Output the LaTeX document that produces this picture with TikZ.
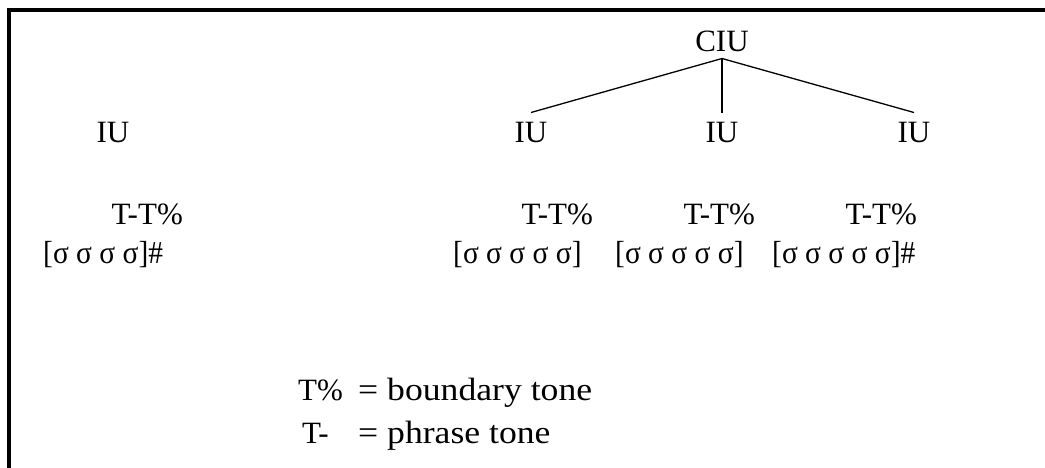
\documentclass[tikz,border=0pt]{standalone}
\usepackage{graphicx}
\usepackage{fontspec}
\setmainfont{Liberation Serif}
\begin{document}
\begin{tikzpicture}[x=1pt,y=-1pt,
  lbl/.style={inner sep=0pt,font=\fontsize{31}{37}\selectfont},
  branch/.style={line width=1.3pt},
  frame/.style={line width=4pt,miter limit=10}]
\useasboundingbox (0,0) rectangle (1045,468);
% frame
\draw[frame] (9,470) -- (9,10) -- (1047,10);
% tree
\node[lbl,anchor=base] (CIU) at (722,52) {CIU};
\node[lbl,anchor=base] (IU1) at (113,143) {IU};
\node[lbl,anchor=base] (IU2) at (531,143) {IU};
\node[lbl,anchor=base] (IU3) at (722,143) {IU};
\node[lbl,anchor=base] (IU4) at (914,143) {IU};
\draw[branch] ([yshift=-6pt]CIU.south) -- ([yshift=10pt]IU2.north);
\draw[branch] ([yshift=-6pt]CIU.south) -- ([yshift=10pt]IU3.north);
\draw[branch] ([yshift=-6pt]CIU.south) -- ([yshift=10pt]IU4.north);
% tones
\node[lbl,anchor=base east] (T1) at (183,225) {T-T\%};
\node[lbl,anchor=base east] (T2) at (593,225) {T-T\%};
\node[lbl,anchor=base east] (T3) at (755,225) {T-T\%};
\node[lbl,anchor=base east] (T4) at (917,225) {T-T\%};
% syllables
\node[lbl,anchor=base west] (S1) at (43,263) {\scalebox{0.95}[1.03]{[σ σ σ σ]\#}};
\node[lbl,anchor=base west] (S2) at (453,263) {\scalebox{0.95}[1.03]{[σ σ σ σ σ]}};
\node[lbl,anchor=base west] (S3) at (615,263) {\scalebox{0.95}[1.03]{[σ σ σ σ σ]}};
\node[lbl,anchor=base west] (S4) at (772,263) {\scalebox{0.95}[1.03]{[σ σ σ σ σ]\#}};
% legend
\node[lbl,anchor=base west] (L1) at (298,400) {T\%};
\node[lbl,anchor=base west] (L1t) at (358,400) {\scalebox{1.15}[1.04]{= boundary tone}};
\node[lbl,anchor=base west] (L2) at (302,443) {T-};
\node[lbl,anchor=base west] (L2t) at (358,443) {\scalebox{1.15}[1.04]{= phrase tone}};
\end{tikzpicture}
\end{document}
